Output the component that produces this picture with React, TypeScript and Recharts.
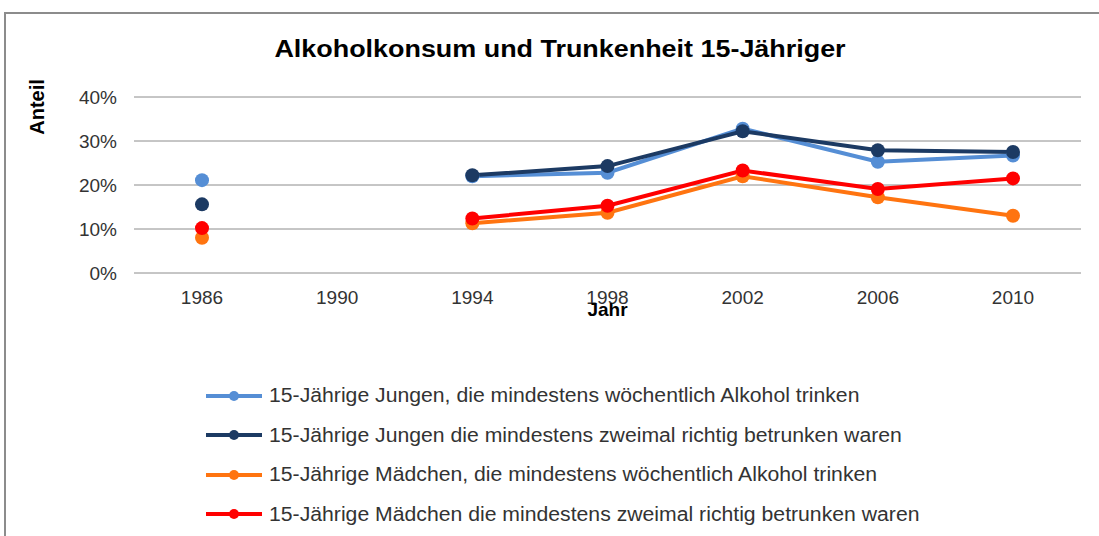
import {
  CartesianGrid,
  Legend,
  Line,
  LineChart,
  XAxis,
  YAxis,
} from 'recharts';

const YEARS = ['1986', '1990', '1994', '1998', '2002', '2006', '2010'];
// 1990 has no survey values -> gaps in every series
const BOYS_WEEKLY = [21.1, null, 22.0, 22.8, 32.8, 25.3, 26.7];
const BOYS_DRUNK = [15.6, null, 22.2, 24.3, 32.2, 27.9, 27.5];
const GIRLS_WEEKLY = [8.0, null, 11.3, 13.7, 22.0, 17.2, 13.0];
const GIRLS_DRUNK = [10.2, null, 12.4, 15.3, 23.3, 19.1, 21.5];
const Y_TICKS = [0, 10, 20, 30, 40];

const SERIES = [
  { key: 'boysWeekly', color: '#558ed5', label: '15-Jährige Jungen, die mindestens wöchentlich Alkohol trinken' },
  { key: 'boysDrunk', color: '#1c3a63', label: '15-Jährige Jungen die mindestens zweimal richtig betrunken waren' },
  { key: 'girlsWeekly', color: '#ff7410', label: '15-Jährige Mädchen, die mindestens wöchentlich Alkohol trinken' },
  { key: 'girlsDrunk', color: '#ff0000', label: '15-Jährige Mädchen die mindestens zweimal richtig betrunken waren' },
] as const;

const FONT = '"Liberation Sans", Arial, sans-serif';
const GRID = '#8c8c8c';
const TEXT = '#333';

const data = YEARS.map((year, i) => ({
  year,
  boysWeekly: BOYS_WEEKLY[i],
  boysDrunk: BOYS_DRUNK[i],
  girlsWeekly: GIRLS_WEEKLY[i],
  girlsDrunk: GIRLS_DRUNK[i],
}));

// keep series order (recharts sorts the payload by name)
function LegendList() {
  return (
    <div>
      {SERIES.map((item) => (
        <div
          key={item.key}
          style={{ alignItems: 'center', display: 'flex', height: 39.5 }}
        >
          <svg height={14} style={{ flex: 'none', marginRight: 6 }} width={58}>
            <line stroke={item.color} strokeWidth={4} x1={1} x2={57} y1={7} y2={7} />
            <circle cx={29} cy={7} fill={item.color} r={5} />
          </svg>
          <span
            style={{
              color: TEXT,
              display: 'inline-block',
              fontSize: 20,
              transform: 'scaleX(1.06)',
              transformOrigin: 'left center',
              whiteSpace: 'nowrap',
            }}
          >
            {item.label}
          </span>
        </div>
      ))}
    </div>
  );
}

function YLabel(props: { viewBox?: { x: number; y: number } }) {
  const x = (props.viewBox?.x ?? 0) + 37;
  const y = 107;
  return (
    <text
      dominantBaseline="central"
      fill="#000"
      fontFamily={FONT}
      fontSize={20}
      fontWeight="bold"
      textAnchor="middle"
      transform={`rotate(-90 ${x} ${y})`}
      x={x}
      y={y}
    >
      Anteil
    </text>
  );
}

export default function App() {
  return (
    <div
      style={{
        background: '#fff',
        fontFamily: FONT,
        height: 536,
        left: 0,
        overflow: 'hidden',
        position: 'absolute',
        top: 0,
        width: 1099,
      }}
    >
      <div
        style={{
          border: `2px solid ${GRID}`,
          height: 700,
          left: 4,
          position: 'absolute',
          top: 12,
          width: 1200,
        }}
      />
      <div
        style={{
          fontSize: 23,
          fontWeight: 'bold',
          left: 0,
          position: 'absolute',
          textAlign: 'center',
          top: 36,
          transform: 'scaleX(1.17)',
          transformOrigin: '560px 0',
          width: 1120,
        }}
      >
        Alkoholkonsum und Trunkenheit 15-Jähriger
      </div>
      <LineChart
        data={data}
        height={536}
        margin={{ bottom: 216, left: 0, right: 18, top: 97 }}
        style={{ left: 0, position: 'absolute', top: 0 }}
        width={1099}
      >
        <CartesianGrid stroke={GRID} vertical={false} />
        <XAxis
          axisLine={false}
          dataKey="year"
          height={47}
          label={{ fill: '#000', fontSize: 19, fontWeight: 'bold', offset: 4, position: 'insideBottom', value: 'Jahr' }}
          padding={{ left: 68, right: 68 }}
          tick={{ fill: TEXT, fontSize: 19 }}
          tickLine={false}
          tickMargin={18}
          tickSize={0}
        />
        <YAxis
          axisLine={false}
          domain={[0, 40]}
          label={<YLabel />}
          tick={{ fill: TEXT, fontSize: 19 }}
          tickFormatter={(value: number) => `${value}%`}
          tickLine={false}
          tickMargin={17}
          tickSize={0}
          ticks={Y_TICKS}
          width={134}
        />
        <Legend
          align="center"
          content={<LegendList />}
          layout="vertical"
          verticalAlign="middle"
          wrapperStyle={{ left: 205, top: 376, width: 800 }}
        />
        {SERIES.map((series) => (
          <Line
            activeDot={false}
            dataKey={series.key}
            dot={{ fill: series.color, r: 7, stroke: 'none' }}
            isAnimationActive={false}
            key={series.key}
            name={series.label}
            stroke={series.color}
            strokeWidth={4}
          />
        ))}
      </LineChart>
    </div>
  );
}
